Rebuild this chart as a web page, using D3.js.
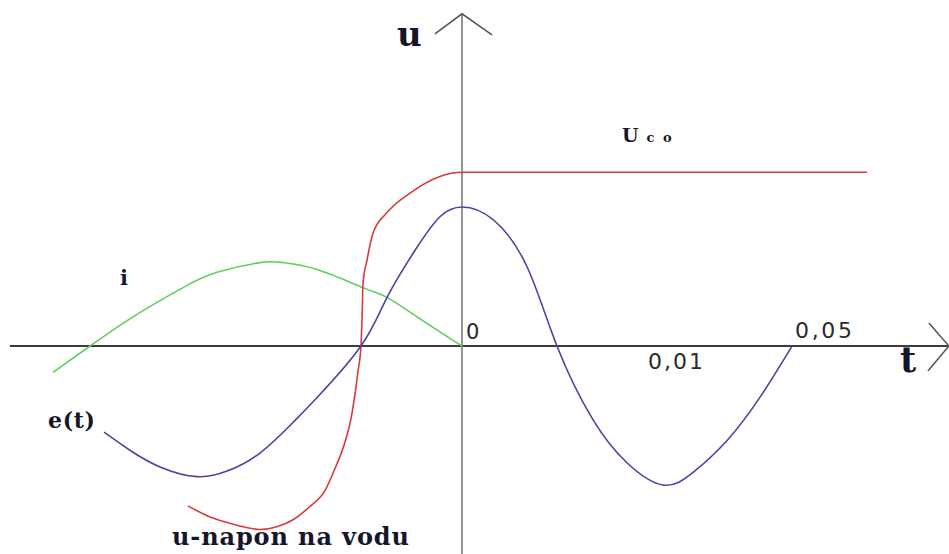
<!DOCTYPE html>
<html>
<head>
<meta charset="utf-8">
<script src="https://cdn.jsdelivr.net/npm/d3@7"></script>
<style>
  html, body { margin: 0; padding: 0; background: #ffffff; }
  svg { display: block; }
  .serifLabel { font-family: "DejaVu Serif", serif; font-weight: bold; fill: #16162a; }
  .tickLabel { font-family: "DejaVu Sans", sans-serif; fill: #2a2a2a; }
</style>
</head>
<body>
<div id="chart"></div>
<script>
/*********************************
   DATA
 *********************************/

// e(t) - Source Voltage (Time, Per-Unit Value)
let eTimes  = [-15.91, -14.76, -13.42, -11.78, -10.44, -8.98, -7.51, -6.44, -4.49, -3.33, -2.0, -0.98, 0, 1.38, 2.89, 4.22, 5.82, 7.33, 8.93, 10.27, 11.78, 13.24, 14.67];
let eValues = [-0.62, -0.75, -0.87, -0.94, -0.90, -0.77, -0.55, -0.37, 0, 0.35, 0.71, 0.93, 1.0, 0.91, 0.57, 0, -0.53, -0.84, -1.0, -0.91, -0.68, -0.37, 0];

// u - Voltage On The Line (Uco After Switching)
let uTimes  = [-12.18, -11.2, -10.44, -9.73, -8.98, -8.22, -7.51, -6.8, -6.09, -5.64, -5.2, -4.93, -4.76, -4.62, -4.49, -4.44, -4.4, -4.22, -3.96, -3.33, -2.31, -0.98, 0, 1.0, 18.0];
let uValues = [-1.15, -1.23, -1.27, -1.30, -1.32, -1.30, -1.25, -1.16, -1.04, -0.88, -0.69, -0.52, -0.35, -0.18, 0, 0.21, 0.45, 0.62, 0.81, 0.96, 1.10, 1.22, 1.25, 1.25, 1.25];

// i - Current
let iTimes  = [-18.18, -16.53, -14.62, -12.4, -10.89, -8.98, -7.96, -6.44, -4.4, -3.33, -2.0, 0];
let iValues = [-0.19, 0, 0.21, 0.42, 0.53, 0.60, 0.60, 0.55, 0.42, 0.35, 0.21, 0];

// Tick Labels On The Time Axis
let tickLabels = ["0", "0,01", "0,05"];
let tickTimes  = [0, 8.27, 14.8];

/*********************************
   DRAW CHART
 *********************************/

let w = 949, h = 554;
let svg = d3.select("#chart").append("svg").attr("width", w).attr("height", h);

// Initialise Scales (Origin Sits Where The Axes Cross)
let xScale = d3.scaleLinear().domain([-20, 20]).range([12, 912]);
let yScale = d3.scaleLinear().domain([-1, 1]).range([485, 207]);
let x0 = xScale(0), y0 = yScale(0);

// Draw Axes
let tLeft = -20.09, tRight = 21.64, uTop = 2.39, uBottom = -1.5;
svg.append("line").attr("x1", xScale(tLeft)).attr("x2", xScale(tRight)).attr("y1", y0).attr("y2", y0)
  .attr("stroke", "#3c3c3c").attr("stroke-width", 2);
svg.append("line").attr("x1", x0).attr("x2", x0).attr("y1", yScale(uTop)).attr("y2", yScale(uBottom))
  .attr("stroke", "#7a7a7a").attr("stroke-width", 1.6);

// Arrow Heads
let tx = xScale(tRight), uy = yScale(uTop);
svg.append("path").attr("d", "M" + (tx - 20) + "," + (y0 - 23) + "L" + tx + "," + y0 + "L" + (tx - 21) + "," + (y0 + 25))
  .attr("fill", "none").attr("stroke", "#555555").attr("stroke-width", 1.5);
svg.append("path").attr("d", "M" + (x0 - 27) + "," + (uy + 20) + "L" + x0 + "," + uy + "L" + (x0 + 30) + "," + (uy + 21))
  .attr("fill", "none").attr("stroke", "#555555").attr("stroke-width", 1.5);

// Draw Curves (Smooth Splines Through The Read Points)
let smoothLine = d3.line().x((d) => { return xScale(d[0]); }).y((d) => { return yScale(d[1]); }).curve(d3.curveNatural);
let steepLine = d3.line().x((d) => { return xScale(d[0]); }).y((d) => { return yScale(d[1]); }).curve(d3.curveMonotoneX);
let series = [
  { times: iTimes, values: iValues, colour: "#5ccf5c", gen: smoothLine },
  { times: uTimes, values: uValues, colour: "#d83a3a", gen: steepLine },
  { times: eTimes, values: eValues, colour: "#4646a6", gen: smoothLine }
];
series.forEach((s) => {
  svg.append("path").datum(d3.zip(s.times, s.values)).attr("d", s.gen)
    .attr("fill", "none").attr("stroke", s.colour).attr("stroke-width", 1.6);
});

// Tick Labels
svg.append("text").text(tickLabels[0]).attr("x", xScale(tickTimes[0]) + 4).attr("y", y0 - 7)
  .classed("tickLabel", true).style("font-size", "21px");
svg.append("text").text(tickLabels[1]).attr("x", xScale(tickTimes[1])).attr("y", y0 + 23)
  .attr("textLength", 55).attr("lengthAdjust", "spacing").classed("tickLabel", true).style("font-size", "22px");
svg.append("text").text(tickLabels[2]).attr("x", xScale(tickTimes[2])).attr("y", y0 - 8)
  .attr("textLength", 57).attr("lengthAdjust", "spacing").classed("tickLabel", true).style("font-size", "22px");

// Axis Names
svg.append("text").text("u").attr("x", x0 - 65).attr("y", yScale(uTop) + 32).classed("serifLabel", true).style("font-size", "34px");
svg.append("text").text("t").attr("x", tx - 49).attr("y", y0 + 26).classed("serifLabel", true).style("font-size", "35px");

// Curve Names
svg.append("text").text("i").attr("x", xScale(-15.2)).attr("y", yScale(0.44)).classed("serifLabel", true).style("font-size", "21px");
svg.append("text").text("e(t)").attr("x", xScale(-18.4)).attr("y", yScale(-0.59))
  .attr("textLength", 47).attr("lengthAdjust", "spacing").classed("serifLabel", true).style("font-size", "22px");
svg.append("text").text("u-napon na vodu").attr("x", xScale(-12.89)).attr("y", yScale(-1.43))
  .attr("textLength", 237).attr("lengthAdjust", "spacing").classed("serifLabel", true).style("font-size", "24px");
let uco = svg.append("text").attr("x", xScale(7.11)).attr("y", yScale(1.47)).classed("serifLabel", true);
uco.append("tspan").text("U").style("font-size", "19px");
uco.append("tspan").text("c o").attr("dx", 8).style("font-size", "13px").style("letter-spacing", "2px");
</script>
</body>
</html>
